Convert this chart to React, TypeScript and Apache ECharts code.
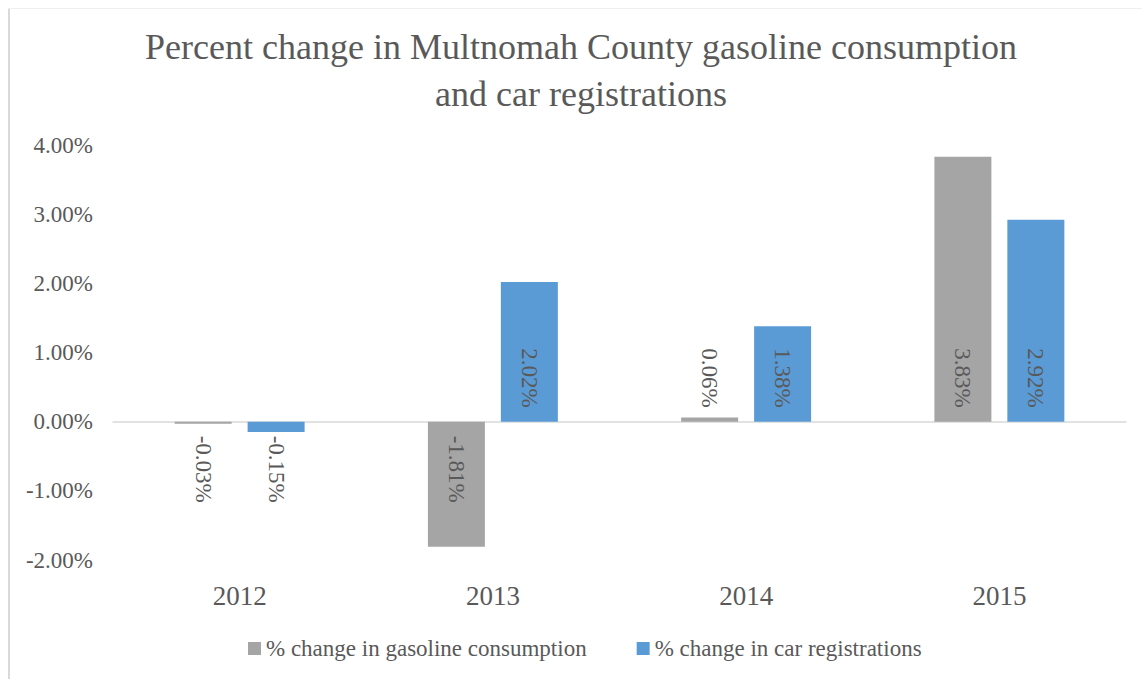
import React, { useEffect, useRef } from "react";
import * as echarts from "echarts";

const categories = ["2012", "2013", "2014", "2015"];
const gasolineChange = [-0.03, -1.81, 0.06, 3.83];
const carRegChange = [-0.15, 2.02, 1.38, 2.92];
const seriesNames = ["% change in gasoline consumption", "% change in car registrations"];
const yMin = -2;
const yMax = 4;
const yInterval = 1;

const FONT = "'Liberation Serif', 'Times New Roman', serif";
const TEXT = "#595959";

function makeData(values: number[]) {
  return values.map((v) => ({
    value: v,
    label: v >= 0
      ? { position: "insideBottom", align: "right", verticalAlign: "middle" }
      : { position: "insideTop", align: "left", verticalAlign: "middle" },
  }));
}

export default function App() {
  const ref = useRef<HTMLDivElement>(null);
  useEffect(() => {
    if (!ref.current) return;
    const chart = echarts.init(ref.current, null, { renderer: "svg" });
    const barLabel = {
      show: true,
      rotate: -90,
      distance: 14,
      fontFamily: FONT,
      fontSize: 23,
      color: TEXT,
      formatter: (p: any) => `${Number(p.value).toFixed(2)}%`,
    };
    chart.setOption({
      animation: false,
      backgroundColor: "#ffffff",
      title: {
        text: "Percent change in Multnomah County gasoline consumption\nand car registrations",
        left: 576,
        top: 18,
        textAlign: "center",
        textStyle: {
          fontFamily: FONT,
          fontSize: 36,
          fontWeight: "normal",
          color: TEXT,
          lineHeight: 47,
        },
      },
      legend: {
        data: seriesNames,
        left: 248,
        top: 637,
        padding: 0,
        itemWidth: 13,
        itemHeight: 13,
        itemGap: 50,
        icon: "rect",
        textStyle: { fontFamily: FONT, fontSize: 23, color: TEXT },
      },
      grid: { left: 113, right: 16, top: 145, bottom: 119, containLabel: false },
      xAxis: [
        {
          type: "category",
          data: categories,
          position: "bottom",
          axisLine: { onZero: true, lineStyle: { color: "#d9d9d9", width: 1.5 } },
          axisTick: { show: false },
          axisLabel: { show: false },
        },
        {
          type: "category",
          data: categories,
          position: "bottom",
          axisLine: { show: false, onZero: false },
          axisTick: { show: false },
          axisLabel: { fontFamily: FONT, fontSize: 27, color: TEXT, margin: 22 },
        },
      ],
      yAxis: {
        type: "value",
        min: yMin,
        max: yMax,
        interval: yInterval,
        axisLine: { show: false },
        axisTick: { show: false },
        splitLine: { show: false },
        axisLabel: {
          fontFamily: FONT,
          fontSize: 23,
          color: TEXT,
          margin: 20,
          formatter: (v: number) => `${v.toFixed(2)}%`,
        },
      },
      series: [
        {
          name: seriesNames[0],
          type: "bar",
          data: makeData(gasolineChange),
          itemStyle: { color: "#A5A5A5" },
          barWidth: 57,
          barGap: "28%",
          label: barLabel,
        },
        {
          name: seriesNames[1],
          type: "bar",
          data: makeData(carRegChange),
          itemStyle: { color: "#5B9BD5" },
          barWidth: 57,
          barGap: "28%",
          label: barLabel,
        },
      ],
      graphic: [
        {
          type: "line",
          shape: { x1: 9, y1: 8, x2: 9, y2: 679 },
          style: { stroke: "#d9d9d9", lineWidth: 2 },
          silent: true,
        },
        {
          type: "line",
          shape: { x1: 8, y1: 8.5, x2: 1142, y2: 8.5 },
          style: { stroke: "#efefef", lineWidth: 1 },
          silent: true,
        },
      ],
    });
    return () => chart.dispose();
  }, []);
  return (
    <div
      ref={ref}
      style={{ position: "fixed", left: 0, top: 0, width: 1142, height: 679, background: "#fff" }}
    />
  );
}
